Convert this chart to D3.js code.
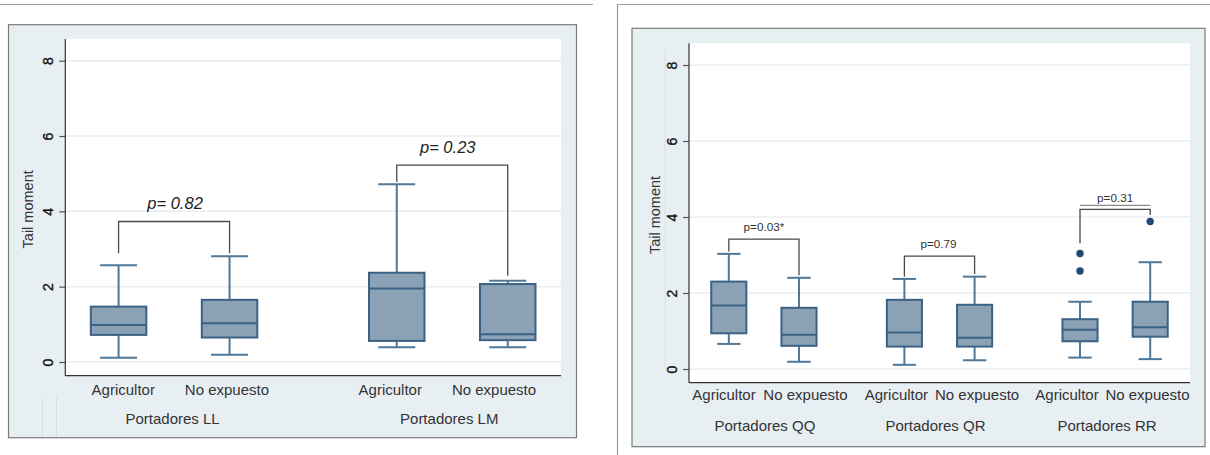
<!DOCTYPE html>
<html>
<head>
<meta charset="utf-8">
<script src="https://cdn.jsdelivr.net/npm/d3@7"></script>
<style>
  html, body { margin: 0; padding: 0; background: #ffffff; }
  svg { display: block; font-family: "Liberation Sans", Arial, Helvetica, sans-serif; }
</style>
</head>
<body>
<svg id="chart" width="1210" height="455"></svg>
<script>
// ---------------- DATA ----------------
const subgroups = ["Agricultor", "No expuesto"];
const yTicks = [0, 2, 4, 6, 8];
const yLabel = "Tail moment";

// Left chart (LL / LM)
const leftGroups = ["Portadores LL", "Portadores LM"];
const leftLow    = [0.11, 0.19, 0.39, 0.39];
const leftQ1     = [0.72, 0.65, 0.56, 0.58];
const leftMedian = [0.98, 1.03, 1.95, 0.74];
const leftQ3     = [1.47, 1.65, 2.37, 2.07];
const leftHigh   = [2.57, 2.81, 4.72, 2.16];
const leftPLabels      = ["p= 0.82", "p= 0.23"];
const leftBracketTop   = [3.73, 5.23];
const leftBracketLEnd  = [2.89, 4.78];
const leftBracketREnd  = [2.89, 2.29];

// Right chart (QQ / QR / RR)
const rightGroups = ["Portadores QQ", "Portadores QR", "Portadores RR"];
const rightLow    = [0.66, 0.19, 0.11, 0.23, 0.30, 0.26];
const rightQ1     = [0.94, 0.61, 0.59, 0.59, 0.73, 0.85];
const rightMedian = [1.67, 0.90, 0.96, 0.82, 1.03, 1.10];
const rightQ3     = [2.30, 1.61, 1.82, 1.69, 1.31, 1.77];
const rightHigh   = [3.03, 2.40, 2.37, 2.43, 1.77, 2.81];
const rightOutlierIndex = [4, 4, 5];
const rightOutlierValue = [3.04, 2.58, 3.88];
const rightPLabels     = ["p=0.03*", "p=0.79", "p=0.31"];
const rightBracketTop  = [3.42, 2.97, 4.20];
const rightBracketLEnd = [3.09, 2.43, 3.31];
const rightBracketREnd = [2.47, 2.50, 4.05];

// ---------------- STYLE ----------------
const C = {
  frameBg: "#e8eff3",
  frameStroke: "#7a7a7a",
  grid: "#e6eef2",
  axis: "#333333",
  boxFill: "#8ba2b6",
  boxStroke: "#3b6184",
  whisker: "#4f7899",
  dot: "#1f4c76",
  bracket: "#4a4a4a",
  text: "#333333"
};

const svg = d3.select("#chart");

// decorative page lines
svg.append("line").attr("x1", 0).attr("x2", 593).attr("y1", 4.5).attr("y2", 4.5)
  .attr("stroke", "#9a9a9a").attr("stroke-width", 1.2);
svg.append("path").attr("d", "M617.5,455 L617.5,4.5 L1210,4.5")
  .attr("fill", "none").attr("stroke", "#9a9a9a").attr("stroke-width", 1.2);

function drawPanel(cfg) {
  const g = svg.append("g");
  // frame
  g.append("rect").attr("x", cfg.frame[0]).attr("y", cfg.frame[1])
    .attr("width", cfg.frame[2] - cfg.frame[0]).attr("height", cfg.frame[3] - cfg.frame[1])
    .attr("fill", C.frameBg).attr("stroke", C.frameStroke).attr("stroke-width", 1.2);
  // decorative faint lines
  (cfg.faint || []).forEach(f => {
    g.append("line").attr("x1", f[0]).attr("x2", f[0]).attr("y1", f[1]).attr("y2", f[2])
      .attr("stroke", "#d9e0e4").attr("stroke-width", 1);
  });
  // plot area
  const [px0, py0, px1, py1] = cfg.plot;
  g.append("rect").attr("x", px0).attr("y", py0).attr("width", px1 - px0).attr("height", py1 - py0)
    .attr("fill", "#ffffff");

  const y = d3.scaleLinear().domain([0, 8]).range(cfg.yRange);
  const xg = d3.scaleBand().domain(cfg.groups).range([px0, px1])
    .paddingInner(cfg.padInner).paddingOuter(0);
  const xs = d3.scalePoint().domain(subgroups).range([0, xg.bandwidth()]).padding(cfg.padPoint);
  const step = xs.step();
  const boxW = step * 0.5;
  const capW = step / 3;

  // grid
  g.selectAll(".grid").data(yTicks).enter().append("line")
    .attr("x1", px0).attr("x2", px1)
    .attr("y1", d => y(d)).attr("y2", d => y(d))
    .attr("stroke", C.grid).attr("stroke-width", 1.5);

  // y axis
  const ax = g.append("g").attr("transform", `translate(${px0},0)`)
    .call(d3.axisLeft(y).tickValues(yTicks).tickSize(6).tickFormat(d3.format("d")));
  ax.select(".domain").remove();
  ax.selectAll(".tick line").attr("stroke", "#555").attr("stroke-width", 1.2);
  ax.selectAll(".tick text")
    .attr("x", null).attr("dy", "0.36em")
    .attr("text-anchor", "middle")
    .attr("transform", "translate(-17,0) rotate(-90)")
    .attr("font-size", 14).attr("fill", "#111")
    .attr("stroke", "#111").attr("stroke-width", 0.35)
    .attr("font-family", "Liberation Sans, Arial, sans-serif");
  // axis lines
  g.append("line").attr("x1", px0).attr("x2", px0).attr("y1", py0).attr("y2", py1)
    .attr("stroke", C.axis).attr("stroke-width", 1.2);
  g.append("line").attr("x1", px0).attr("x2", px1).attr("y1", py1).attr("y2", py1)
    .attr("stroke", C.axis).attr("stroke-width", 1.2);

  // y label
  g.append("text").attr("transform", `translate(${cfg.yLabelX},${(py0 + py1) / 2 + 2}) rotate(-90)`)
    .attr("text-anchor", "middle").attr("font-size", 14.5).attr("fill", C.text).text(yLabel);

  // boxes
  const items = [];
  cfg.groups.forEach((grp, gi) => {
    subgroups.forEach((sg, si) => {
      const i = gi * subgroups.length + si;
      items.push({ i, grp, sg, cx: xg(grp) + xs(sg),
        low: cfg.low[i], q1: cfg.q1[i], med: cfg.median[i], q3: cfg.q3[i], high: cfg.high[i] });
    });
  });
  const bx = g.selectAll(".box").data(items).enter().append("g");
  // whiskers
  bx.append("line").attr("x1", d => d.cx).attr("x2", d => d.cx)
    .attr("y1", d => y(d.q3)).attr("y2", d => y(d.high))
    .attr("stroke", C.whisker).attr("stroke-width", 2);
  bx.append("line").attr("x1", d => d.cx).attr("x2", d => d.cx)
    .attr("y1", d => y(d.q1)).attr("y2", d => y(d.low))
    .attr("stroke", C.whisker).attr("stroke-width", 2);
  bx.append("line").attr("x1", d => d.cx - capW / 2).attr("x2", d => d.cx + capW / 2)
    .attr("y1", d => y(d.high)).attr("y2", d => y(d.high))
    .attr("stroke", C.whisker).attr("stroke-width", 2);
  bx.append("line").attr("x1", d => d.cx - capW / 2).attr("x2", d => d.cx + capW / 2)
    .attr("y1", d => y(d.low)).attr("y2", d => y(d.low))
    .attr("stroke", C.whisker).attr("stroke-width", 2);
  // box
  bx.append("rect").attr("x", d => d.cx - boxW / 2).attr("width", boxW)
    .attr("y", d => y(d.q3)).attr("height", d => y(d.q1) - y(d.q3))
    .attr("fill", C.boxFill).attr("stroke", C.boxStroke).attr("stroke-width", 2);
  bx.append("line").attr("x1", d => d.cx - boxW / 2).attr("x2", d => d.cx + boxW / 2)
    .attr("y1", d => y(d.med)).attr("y2", d => y(d.med))
    .attr("stroke", C.boxStroke).attr("stroke-width", 2);

  // outliers
  (cfg.outIdx || []).forEach((idx, k) => {
    g.append("circle").attr("cx", items[idx].cx).attr("cy", y(cfg.outVal[k]))
      .attr("r", 3.7).attr("fill", C.dot);
  });

  // brackets
  cfg.groups.forEach((grp, gi) => {
    const xl = xg(grp) + xs(subgroups[0]);
    const xr = xg(grp) + xs(subgroups[1]);
    const yt = y(cfg.bTop[gi]);
    g.append("path")
      .attr("d", `M${xl},${y(cfg.bL[gi])} L${xl},${yt} L${xr},${yt} L${xr},${y(cfg.bR[gi])}`)
      .attr("fill", "none").attr("stroke", C.bracket).attr("stroke-width", 1.3);
    if (cfg.extraLine && cfg.extraLine[gi]) {
      g.append("line").attr("x1", xl).attr("x2", xr).attr("y1", yt - 4).attr("y2", yt - 4)
        .attr("stroke", "#8a8a8a").attr("stroke-width", 1.2);
    }
    g.append("text").attr("x", (xl + xr) / 2 + cfg.pDx[gi]).attr("y", yt - cfg.pGap)
      .attr("text-anchor", "middle").attr("font-size", cfg.pSize)
      .attr("font-style", cfg.pItalic ? "italic" : "normal")
      .attr("fill", cfg.pColor).text(cfg.pLabels[gi]);
  });

  // category labels (small label nudges as in the original layout)
  g.selectAll(".cat").data(items).enter().append("text")
    .attr("x", d => d.cx + cfg.catDx[d.i]).attr("y", cfg.catY).attr("text-anchor", "middle")
    .attr("font-size", 15).attr("fill", C.text).text(d => d.sg);
  g.selectAll(".grp").data(cfg.groups).enter().append("text")
    .attr("x", (d, k) => xg(d) + xg.bandwidth() / 2 + cfg.grpDx[k]).attr("y", cfg.grpY)
    .attr("text-anchor", "middle")
    .attr("font-size", 15).attr("fill", C.text).text(d => d);
}

drawPanel({
  frame: [8.5, 24.7, 576.5, 437.7],
  plot: [65.3, 39, 561, 375.7],
  yRange: [362, 60.7],
  groups: leftGroups,
  padInner: 0.218, padPoint: 0.48,
  low: leftLow, q1: leftQ1, median: leftMedian, q3: leftQ3, high: leftHigh,
  bTop: leftBracketTop, bL: leftBracketLEnd, bR: leftBracketREnd,
  pLabels: leftPLabels, pSize: 16.5, pItalic: true, pGap: 12.4, pDx: [1, -4.5], pColor: "#222",
  catY: 395, grpY: 423.5, yLabelX: 33,
  catDx: [4.7, -2.6, -6.5, -13.7], grpDx: [-1.5, -3],
  faint: [[42.5, 397, 437], [56.5, 397, 437]]
});

drawPanel({
  frame: [632, 28.3, 1205, 446.7],
  plot: [689, 43.3, 1190, 382.7],
  yRange: [369, 65],
  groups: rightGroups,
  padInner: 0.147, padPoint: 0.567,
  low: rightLow, q1: rightQ1, median: rightMedian, q3: rightQ3, high: rightHigh,
  outIdx: rightOutlierIndex, outVal: rightOutlierValue,
  bTop: rightBracketTop, bL: rightBracketLEnd, bR: rightBracketREnd,
  extraLine: [false, false, true],
  pLabels: rightPLabels, pSize: 11.7, pItalic: false, pGap: 7.8, pDx: [0, -1, 0], pColor: "#333",
  catY: 399.5, grpY: 431, yLabelX: 660,
  catDx: [-4.8, 6.5, -8, 2.5, -13, -2.7], grpDx: [1, -4, -8],
  faint: [[665, 50, 368]]
});
</script>
</body>
</html>
